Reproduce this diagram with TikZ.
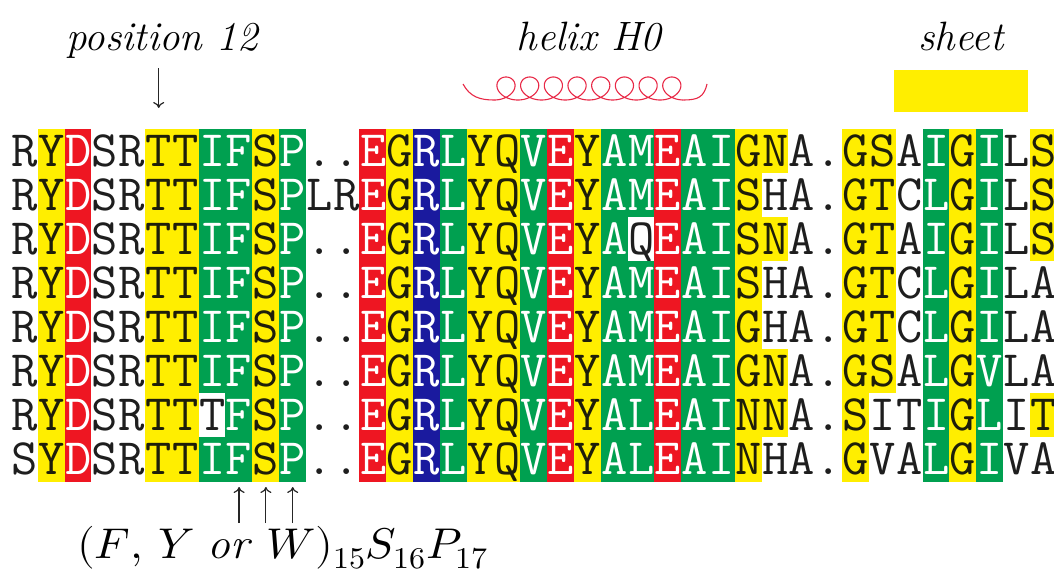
\documentclass[tikz,border=0pt]{standalone}
\usepackage{fontspec}
\usepackage{unicode-math}
\setmathfont{Latin Modern Math}
\usetikzlibrary{arrows.meta}
\definecolor{cw}{RGB}{255,255,255}
\definecolor{cy}{RGB}{255,238,0}
\definecolor{cg}{RGB}{0,160,80}
\definecolor{cr}{RGB}{238,22,34}
\definecolor{cb}{RGB}{26,26,158}
\definecolor{tw}{RGB}{30,30,30}
\definecolor{ty}{RGB}{30,30,10}
\definecolor{tg}{RGB}{255,255,255}
\definecolor{tr}{RGB}{255,255,255}
\definecolor{tb}{RGB}{255,255,255}
\definecolor{helixred}{RGB}{232,40,70}
\definecolor{sheety}{RGB}{255,238,0}
\begin{document}
\begin{tikzpicture}[x=1pt,y=-1pt,
  seq/.style={font=\fontsize{51}{51}\selectfont\ttfamily, inner sep=0pt, anchor=base},
  lab/.style={font=\fontsize{41}{41}\selectfont\itshape, inner sep=0pt, anchor=base},
  mlab/.style={font=\fontsize{43}{43}\selectfont, inner sep=0pt, anchor=base west, xscale=1.06},
  arr/.style={line width=1.2pt, draw=black!85, -{Computer Modern Rightarrow[length=6pt,width=11pt]}},
  helixline/.style={helixred, line width=1.1pt}]
\useasboundingbox (0,0) rectangle (1054,570);
\def\xo{11.2}\def\colw{26.81}\def\yo{129}\def\rh{44}
\foreach \row [count=\r from 0] in {
{R/w,Y/y,D/r,S/w,R/w,T/y,T/y,I/g,F/g,S/y,P/g,./w,./w,E/r,G/y,R/b,L/g,Y/y,Q/y,V/g,E/r,Y/y,A/g,M/g,E/r,A/g,I/g,G/y,N/y,A/w,./w,G/y,S/y,A/w,I/g,G/y,I/g,L/w,S/y},
{R/w,Y/y,D/r,S/w,R/w,T/y,T/y,I/g,F/g,S/y,P/g,L/w,R/w,E/r,G/y,R/b,L/g,Y/y,Q/y,V/g,E/r,Y/y,A/g,M/g,E/r,A/g,I/g,S/y,H/w,A/w,./w,G/y,T/y,C/w,L/g,G/y,I/g,L/w,S/y},
{R/w,Y/y,D/r,S/w,R/w,T/y,T/y,I/g,F/g,S/y,P/g,./w,./w,E/r,G/y,R/b,L/g,Y/y,Q/y,V/g,E/r,Y/y,A/g,Q/w,E/r,A/g,I/g,S/y,N/y,A/w,./w,G/y,T/y,A/w,I/g,G/y,I/g,L/w,S/y},
{R/w,Y/y,D/r,S/w,R/w,T/y,T/y,I/g,F/g,S/y,P/g,./w,./w,E/r,G/y,R/b,L/g,Y/y,Q/y,V/g,E/r,Y/y,A/g,M/g,E/r,A/g,I/g,S/y,H/w,A/w,./w,G/y,T/y,C/w,L/g,G/y,I/g,L/w,A/w},
{R/w,Y/y,D/r,S/w,R/w,T/y,T/y,I/g,F/g,S/y,P/g,./w,./w,E/r,G/y,R/b,L/g,Y/y,Q/y,V/g,E/r,Y/y,A/g,M/g,E/r,A/g,I/g,G/y,H/w,A/w,./w,G/y,T/y,C/w,L/g,G/y,I/g,L/w,A/w},
{R/w,Y/y,D/r,S/w,R/w,T/y,T/y,I/g,F/g,S/y,P/g,./w,./w,E/r,G/y,R/b,L/g,Y/y,Q/y,V/g,E/r,Y/y,A/g,M/g,E/r,A/g,I/g,G/y,N/y,A/w,./w,G/y,S/y,A/w,L/g,G/y,V/g,L/w,A/w},
{R/w,Y/y,D/r,S/w,R/w,T/y,T/y,T/w,F/g,S/y,P/g,./w,./w,E/r,G/y,R/b,L/g,Y/y,Q/y,V/g,E/r,Y/y,A/g,L/g,E/r,A/g,I/g,N/y,N/y,A/w,./w,S/y,I/w,T/w,I/g,G/y,L/g,I/w,T/y},
{S/w,Y/y,D/r,S/w,R/w,T/y,T/y,I/g,F/g,S/y,P/g,./w,./w,E/r,G/y,R/b,L/g,Y/y,Q/y,V/g,E/r,Y/y,A/g,L/g,E/r,A/g,I/g,N/y,H/w,A/w,./w,G/y,V/w,A/w,L/g,G/y,I/g,V/w,A/w}}
{
  \foreach \ch/\cl [count=\i from 0] in \row {
    \fill[c\cl, draw=c\cl, line width=0.5pt] (\xo+\i*\colw, \yo+\r*\rh) rectangle ++(\colw,\rh);
    \node[seq, text=t\cl] (s\r-\i) at (\xo+\i*\colw+\colw/2, \yo+\r*\rh+\rh/2+15.5) {\ch};
  }
}
% top labels
\node[lab] (pos) at (162,50) {position 12};
\node[lab] (hel) at (589,50) {helix H0};
\node[lab] (sht) at (961,50) {sheet};
\coordinate (p12a) at (158.7,68);
\coordinate (p12b) at (158.7,108);
\draw[arr] (p12a) -- (p12b);
% helix coil
\coordinate (hl) at (463,84);
\coordinate (hr) at (707,84);
\coordinate (hs) at (494.1,100);
\coordinate (he) at (683.6,100);
\draw[helixline] (hl) .. controls (470,97) and (480,100) .. (hs);
\draw[helixline, domain=3.1416:53.407, samples=600, smooth, variable=\t]
  plot ({482.3+3.77*\t-14.5*sin(\t r)}, {88.5-11.5*cos(\t r)});
\draw[helixline] (he) .. controls (698,100) and (704,97) .. (hr);
% sheet
\fill[sheety] (894,70) rectangle (1028,112);
% bottom arrows
\foreach \k/\c in {1/8,2/9,3/10} {
  \coordinate (b\k) at (\xo+\c*\colw+\colw/2,523);
  \coordinate (t\k) at (\xo+\c*\colw+\colw/2,487);
  \draw[arr] (b\k) -- (t\k);
}
\node[mlab] (motif) at (77,558) {$(F,\,Y$ \textit{or} $W)_{15}S_{16}P_{17}$};
\end{tikzpicture}
\end{document}
